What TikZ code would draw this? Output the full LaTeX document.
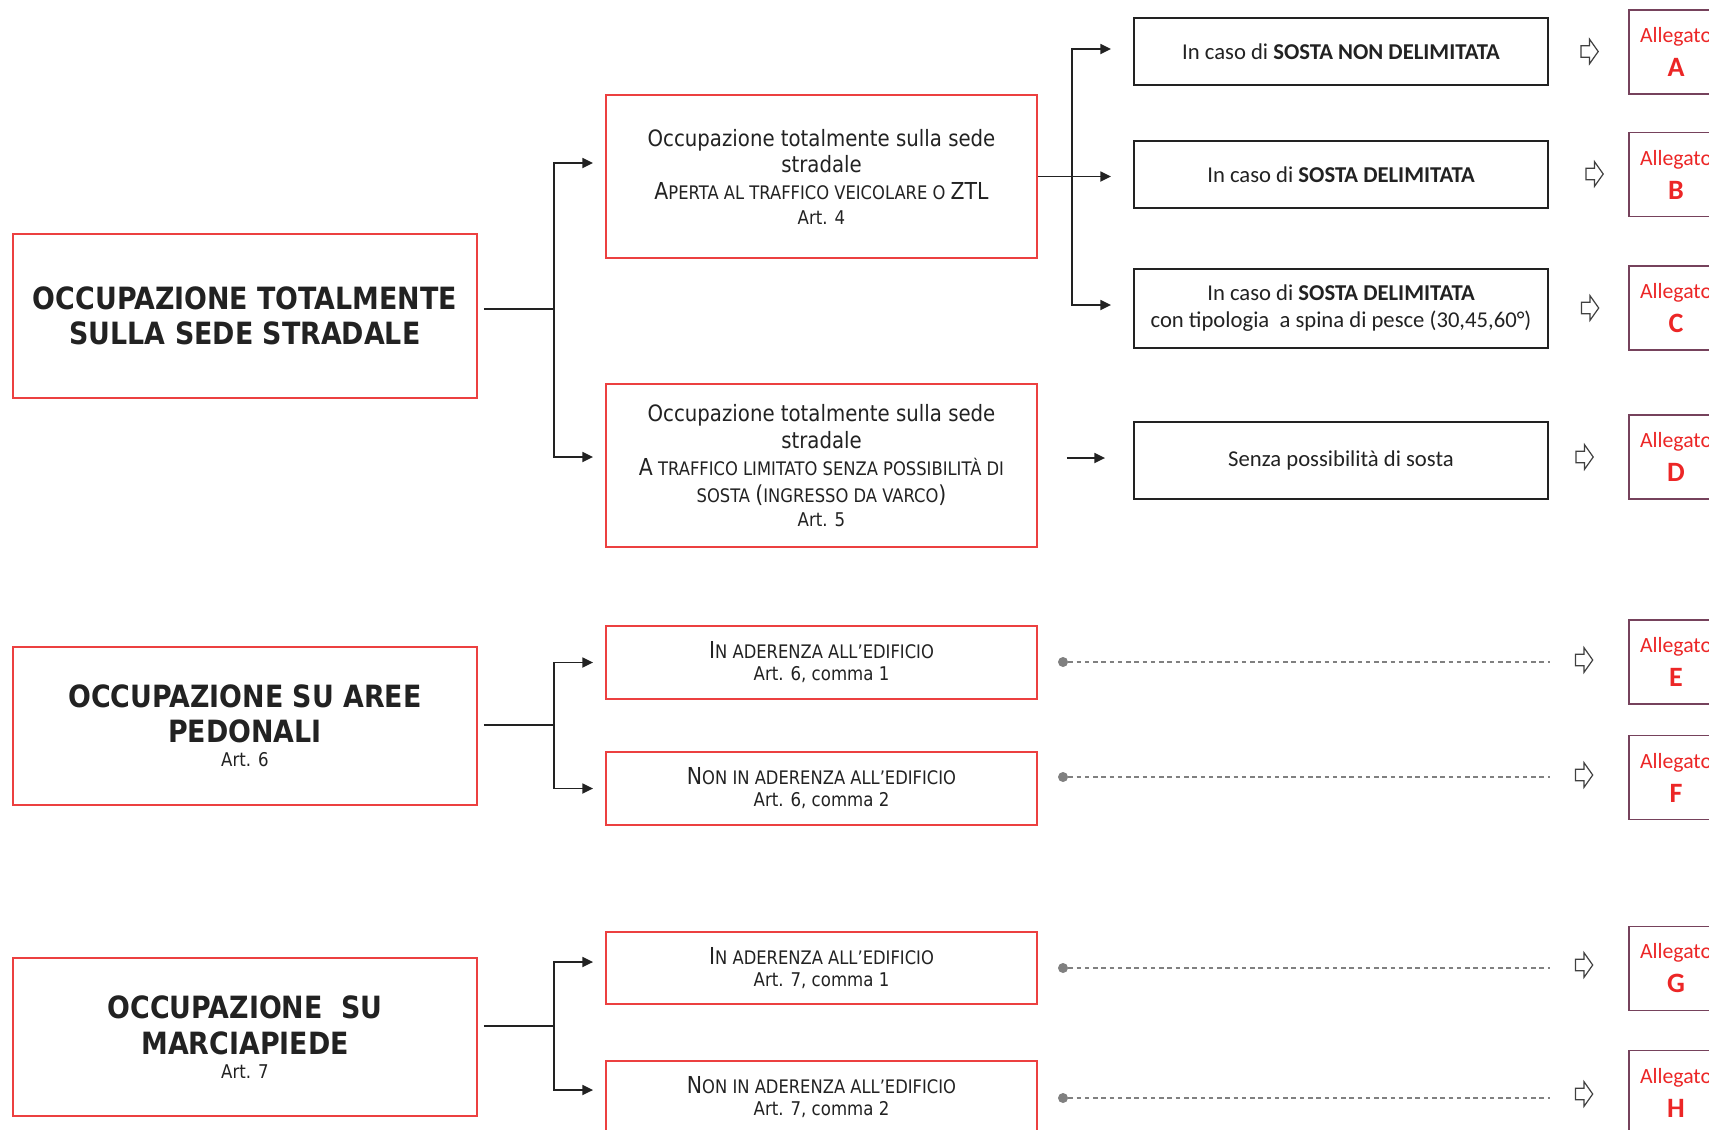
\documentclass[tikz,border=0pt]{standalone}
\usepackage{fontspec}
\usetikzlibrary{arrows.meta,calc}
\newfontfamily\tah[FakeStretch=0.876]{DejaVu Sans}
\newfontfamily\carl{Carlito}
\definecolor{boxred}{RGB}{236,64,64}
\definecolor{ink}{RGB}{34,34,34}
\definecolor{allred}{RGB}{236,38,38}
\definecolor{allframe}{RGB}{118,66,92}
\definecolor{dotgray}{RGB}{128,128,128}
\definecolor{arrowgray}{RGB}{64,64,64}
% small capitals built from two sizes of capitals
\newcommand\smcp[1]{{\fontsize{14}{16}\selectfont #1}}
\newcommand\fsc{\fontsize{17.5}{20}\selectfont}
\newcommand\fsart{\fontsize{14.2}{18}\selectfont}
\tikzset{
  redbox/.style={draw=boxred, line width=1.4pt, fill=white, align=center, text=ink, inner sep=0pt},
  headbox/.style={redbox, minimum width=348pt, font=\tah\bfseries\fontsize{23}{26.5}\selectfont},
  midbox/.style={redbox, minimum width=323.25pt, font=\tah\fontsize{16.9}{20}\selectfont},
  blackbox/.style={draw=ink, line width=1.4pt, minimum width=310.5pt, align=center, text=ink, inner sep=0pt, font=\carl\fontsize{17}{20.25}\selectfont},
  annexbox/.style={draw=allframe, line width=1.4pt, minimum width=70.5pt, minimum height=63pt, align=center, text=allred, inner sep=0pt, font=\carl\fontsize{16.3}{25.5}\selectfont},
  conn/.style={draw=ink, line width=1.3pt},
  arr/.style={conn, -{Triangle[length=8pt,width=7.5pt]}},
  dotnode/.style={circle, fill=dotgray, inner sep=0pt, minimum size=7.5pt},
  dashline/.style={draw=dotgray, line width=0.9pt, dash pattern=on 3.4pt off 2.8pt},
  hollow/.pic={\draw[draw=arrowgray, line width=0.9pt, fill=white, line join=miter]
      (-8.5,-5.8) -- (0,-5.8) -- (0,-12.3) -- (8.7,0) -- (0,12.3) -- (0,5.8) -- (-8.5,5.8) -- cycle;}
}
\begin{document}
\begin{tikzpicture}[x=0.75pt, y=-0.75pt]
\useasboundingbox (0,0) rectangle (1709,1129);
\clip (0,0) rectangle (1709,1129);
\fill[white] (0,0) rectangle (1709,1129);

% main categories
\node[headbox, minimum height=123pt] (L1) at (245,316) {OCCUPAZIONE TOTALMENTE\\SULLA SEDE STRADALE};
\node[headbox, minimum height=118.5pt] (L2) at (245,726) {OCCUPAZIONE SU AREE\\PEDONALI\\[-8.5pt]{\mdseries\fsart Art. 6}};
\node[headbox, minimum height=118.5pt] (L3) at (245,1037) {OCCUPAZIONE\ \ SU\\MARCIAPIEDE\\[-8.5pt]{\mdseries\fsart Art. 7}};

% sub-cases
\node[midbox, minimum height=122.25pt] (M1) at (821.5,176.5) {Occupazione totalmente sulla sede\\stradale\\{\fsc A\smcp{PERTA AL TRAFFICO VEICOLARE O }ZTL}\\[-1.5pt]{\fsart Art. 4}};
\node[midbox, minimum height=122.25pt, font=\tah\fontsize{16.9}{20.25}\selectfont] (M2) at (821.5,465.5) {Occupazione totalmente sulla sede\\stradale\\{\fsc A\smcp{ TRAFFICO LIMITATO SENZA POSSIBILIT\`A DI}}\\{\fsc\smcp{SOSTA }(\smcp{INGRESSO DA VARCO})}\\[-2pt]{\fsart Art. 5}};
\node[midbox, minimum height=54.75pt, font=\tah\fontsize{16.9}{16.5}\selectfont] (M3) at (821.5,662.5) {{\fsc I\smcp{N ADERENZA ALL’EDIFICIO}}\\{\fsart Art. 6, comma 1}};
\node[midbox, minimum height=54.75pt, font=\tah\fontsize{16.9}{16.5}\selectfont] (M4) at (821.5,788.5) {{\fsc N\smcp{ON IN ADERENZA ALL’EDIFICIO}}\\{\fsart Art. 6, comma 2}};
\node[midbox, minimum height=54pt, font=\tah\fontsize{16.9}{16.5}\selectfont] (M5) at (821.5,968) {{\fsc I\smcp{N ADERENZA ALL’EDIFICIO}}\\{\fsart Art. 7, comma 1}};
\node[midbox, minimum height=54.75pt, font=\tah\fontsize{16.9}{16.5}\selectfont] (M6) at (821.5,1097.5) {{\fsc N\smcp{ON IN ADERENZA ALL’EDIFICIO}}\\{\fsart Art. 7, comma 2}};

% parking cases
\node[blackbox, minimum height=50.25pt] (B1) at (1341,51.5) {In caso di \textbf{SOSTA NON DELIMITATA}};
\node[blackbox, minimum height=50.25pt] (B2) at (1341,174.5) {In caso di \textbf{SOSTA DELIMITATA}};
\node[blackbox, minimum height=59.25pt] (B3) at (1341,308.5) {In caso di \textbf{SOSTA DELIMITATA}\\con tipologia\ \ a spina di pesce (30,45,60°)};
\node[blackbox, minimum height=57.75pt] (B4) at (1341,460.5) {Senza possibilità di sosta};

% annexes
\foreach \nm/\yy in {A/52,B/174.5,C/308,D/457,E/662,F/777.5,G/968.5,H/1092.5}{
  \node[annexbox] (a\nm) at (1676,\yy) {Allegato\\{\bfseries\fontsize{21}{20}\selectfont \nm}};
}

% pointers towards the annexes
\foreach \xx/\yy in {1589.5/51.5,1594.5/174,1590/308,1584.5/457,1584/660,1584/775,1584/965,1584/1094}{
  \pic at (\xx,\yy) {hollow};
}

% junctions
\coordinate (j1) at (554,309);
\coordinate (j2) at (1072,176.5);
\coordinate (j3) at (554,725);
\coordinate (j4) at (554,1026);

\draw[conn, shorten <=4.5pt] (L1.east |- j1) -- (j1);
\draw[arr, shorten >=9pt] (j1) |- ($(M1.west)+(0,-13.5)$);
\draw[arr, shorten >=9pt] (j1) |- ($(M2.west)+(0,-8.5)$);

\draw[conn] (M1.east) -- (j2);
\draw[arr, shorten >=16.5pt] (j2) |- ($(B1.west)+(0,-2.5)$);
\draw[arr, shorten >=16.5pt] (j2) -- (j2 -| B2.west);
\draw[arr, shorten >=16.5pt] (j2) |- ($(B3.west)+(0,-3.5)$);

\draw[arr, shorten <=21.75pt, shorten >=21pt] ($(M2.east |- B4.west)+(0,-2.5)$) -- ($(B4.west)+(0,-2.5)$);

\draw[conn, shorten <=4.5pt] (L2.east |- j3) -- (j3);
\draw[arr, shorten >=9pt] (j3) |- (M3.west);
\draw[arr, shorten >=9pt] (j3) |- (M4.west);

\draw[conn, shorten <=4.5pt] (L3.east |- j4) -- (j4);
\draw[arr, shorten >=9pt] (j4) |- ($(M5.west)+(0,-6)$);
\draw[arr, shorten >=9pt] (j4) |- ($(M6.west)+(0,-7.5)$);

% dotted leaders for the pedestrian and sidewalk cases
\foreach \k/\yy in {3/662,4/777,5/968,6/1098}{
  \node[dotnode] (d\k) at (1063,\yy) {};
  \coordinate (e\k) at (1550,\yy);
  \draw[dashline] (d\k) -- (e\k);
}
\end{tikzpicture}
\end{document}
